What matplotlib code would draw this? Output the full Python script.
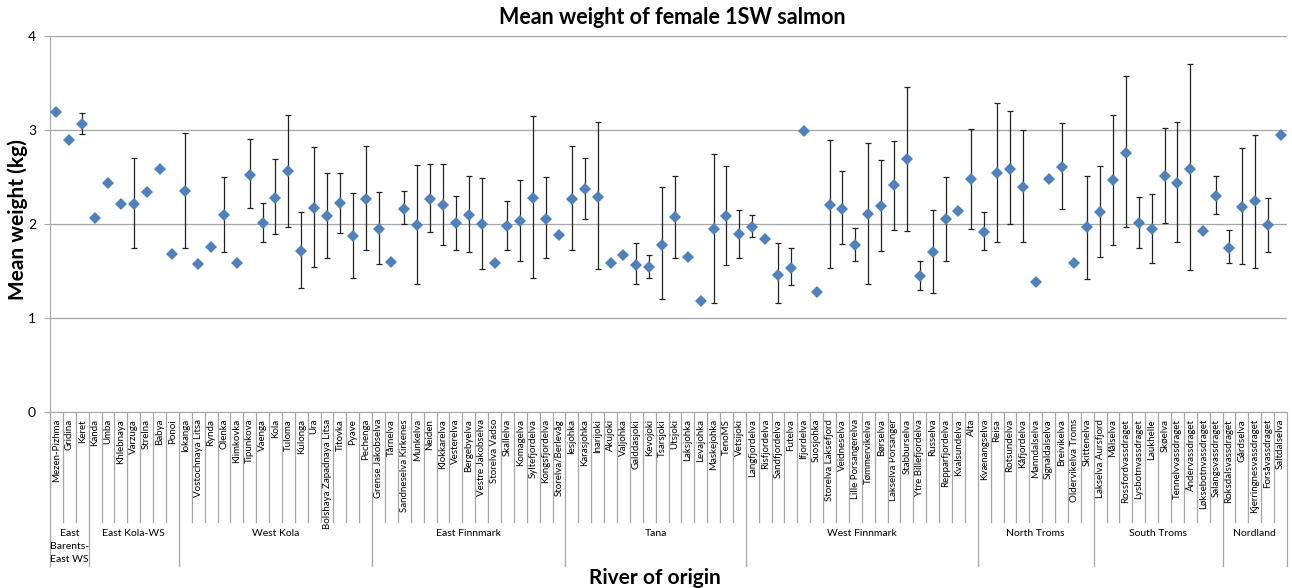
import numpy as np
import matplotlib.pyplot as plt
from matplotlib.transforms import blended_transform_factory

plt.rcParams['font.family'] = ['Lato', 'DejaVu Sans']

# regions and how many rivers each has
regions = ['East\nBarents-\nEast WS', 'East Kola-WS', 'West Kola', 'East Finnmark', 'Tana',
           'West Finnmark', 'North Troms', 'South Troms', 'Nordland']
region_sizes = [3, 7, 15, 15, 14, 18, 9, 10, 5]

rivers = ['Mezen-Pizhma', 'Gridina', 'Keret',
          'Kanda', 'Umba', 'Khlebnaya', 'Varzuga', 'Strelna', 'Babya', 'Ponoi',
          'Iokanga', 'Vostochnaya Litsa', 'Rynda', 'Olenka', 'Klimkovka', 'Tipunkova', 'Vaenga',
          'Kola', 'Tuloma', 'Kulonga', 'Ura', 'Bolshaya Zapadnaya Litsa', 'Titovka', 'Pyave',
          'Pechenga',
          'Grense Jakobselva', 'Tårnelva', 'Sandneselva Kirkenes', 'Munkelva', 'Neiden',
          'Klokkarelva', 'Vesterelva', 'Bergebyelva', 'Vestre Jakobselva', 'Storelva Vadso',
          'Skallelva', 'Komagelva', 'Syltefjordelva', 'Kongsfjordelva', 'Storelva/Berlevåg',
          'Iesjohka', 'Karasjohka', 'Inarijoki', 'Akujoki', 'Valjohka', 'Galddasjoki', 'Kevojoki',
          'Tsarsjoki', 'Utsjoki', 'Laksjohka', 'Levajohka', 'Maskejohka', 'TenoMS', 'Vetsijoki',
          'Langfjordelva', 'Risfjordelva', 'Sandfjordelva', 'Futelva', 'Ifjordelva', 'Suosjohka',
          'Storelva Laksefjord', 'Veidneselva', 'Lille Porsangerelva', 'Tømmervikelva',
          'Børselva', 'Lakselva Porsanger', 'Stabburselva', 'Ytre Billefjordelva', 'Russelva',
          'Repparfjordelva', 'Kvalsundelva', 'Alta',
          'Kvænangselva', 'Reisa', 'Rotsundelva', 'Kåfjordelva', 'Manndalselva',
          'Signaldalselva', 'Breivikelva', 'Oldervikelva Troms', 'Skittenelva',
          'Lakselva Aursfjord', 'Målselva', 'Rossfordvassdraget', 'Lysbotnvassdraget',
          'Laukhelle', 'Skøelva', 'Tennelvvassdraget', 'Åndervassdraget',
          'Løksebotnvassdraget', 'Salangsvassdraget',
          'Roksdalsvassdraget', 'Gårdselva', 'Kjerringnesvassdraget', 'Forsåvassdraget',
          'Saltdalselva']

nan = np.nan
mean_kg = [3.19, 2.89, 3.06,
           2.06, 2.44, 2.21, 2.21, 2.34, 2.59, 1.68,
           2.35, 1.57, 1.76, 2.10, 1.58, 2.52, 2.01, 2.28, 2.56, 1.71, 2.17, 2.09, 2.22, 1.87,
           2.27,
           1.95, 1.60, 2.16, 1.99, 2.27, 2.20, 2.01, 2.10, 2.00, 1.58, 1.98, 2.03, 2.28, 2.05,
           1.88,
           2.27, 2.37, 2.29, 1.58, 1.67, 1.56, 1.54, 1.78, 2.07, 1.645, 1.18, 1.95, 2.09, 1.89,
           1.97, 1.84, 1.46, 1.535, 2.99, 1.28, 2.20, 2.16, 1.78, 2.11, 2.19, 2.41, 2.69, 1.45,
           1.705, 2.05, 2.14, 2.48,
           1.915, 2.54, 2.59, 2.39, 1.38, 2.475, 2.61, 1.58, 1.965,
           2.13, 2.47, 2.755, 2.01, 1.95, 2.51, 2.44, 2.59, 1.93, 2.30,
           1.75, 2.18, 2.24, 1.99, 2.95]

upper_kg = [nan, nan, 3.18,
            nan, nan, nan, 2.70, nan, nan, nan,
            2.97, nan, nan, 2.50, nan, 2.90, 2.22, 2.69, 3.16, 2.13, 2.82, 2.54, 2.54, 2.33,
            2.83,
            2.34, nan, 2.35, 2.63, 2.64, 2.635, 2.30, 2.51, 2.49, nan, 2.25, 2.47, 3.15, 2.50,
            nan,
            2.83, 2.70, 3.08, nan, nan, 1.795, 1.67, 2.39, 2.51, nan, nan, 2.75, 2.62, 2.15,
            2.10, nan, 1.795, 1.74, nan, nan, 2.89, 2.56, 1.96, 2.86, 2.68, 2.88, 3.46, 1.61,
            2.15, 2.50, nan, 3.01,
            2.13, 3.29, 3.20, 3.00, nan, nan, 3.07, nan, 2.51,
            2.62, 3.16, 3.57, 2.29, 2.32, 3.02, 3.09, 3.70, nan, 2.51,
            1.94, 2.805, 2.95, 2.28, nan]

lower_kg = [nan, nan, 2.96,
            nan, nan, nan, 1.745, nan, nan, nan,
            1.745, nan, nan, 1.705, nan, 2.17, 1.81, 1.89, 1.97, 1.32, 1.54, 1.635, 1.90, 1.425,
            1.72,
            1.575, nan, 2.00, 1.36, 1.92, 1.78, 1.72, 1.70, 1.52, nan, 1.72, 1.61, 1.425, 1.64,
            nan,
            1.72, 2.05, 1.52, nan, nan, 1.36, 1.43, 1.20, 1.64, nan, nan, 1.16, 1.56, 1.64,
            1.86, nan, 1.155, 1.35, nan, nan, 1.535, 1.79, 1.61, 1.36, 1.71, 1.94, 1.93, 1.30,
            1.27, 1.61, nan, 1.95,
            1.72, 1.805, 2.00, 1.81, nan, nan, 2.16, nan, 1.42,
            1.65, 1.78, 1.97, 1.745, 1.59, 2.01, 1.805, 1.51, nan, 2.11,
            1.585, 1.575, 1.53, 1.70, nan]

yticks = [0, 1, 2, 3, 4]

mean = np.array(mean_kg)
hi = np.array(upper_kg)
lo = np.array(lower_kg)
x = np.arange(len(rivers))

W, H = 1292, 588
fig = plt.figure(figsize=(W / 100, H / 100), dpi=100)
ax = fig.add_axes([50 / W, (H - 412) / H, 1237 / W, 376 / H])

has_bar = ~np.isnan(hi)
ax.errorbar(x[has_bar], mean[has_bar],
            yerr=[mean[has_bar] - lo[has_bar], hi[has_bar] - mean[has_bar]],
            fmt='none', ecolor='#222222', elinewidth=0.9, capsize=2.2, capthick=0.9, zorder=2)
ax.plot(x, mean, 'D', color='#4F81BD', markersize=6, markeredgewidth=0, zorder=3)

ax.set_xlim(-0.5, len(rivers) - 0.5)
ax.set_ylim(0, 4)
ax.set_yticks(yticks)
ax.set_yticklabels([str(t) for t in yticks], fontsize=10)
ax.yaxis.grid(True, color='#a6a6a6', linewidth=0.9)
ax.set_axisbelow(True)
for s in ['top', 'right']:
    ax.spines[s].set_visible(False)
ax.spines['left'].set_color('#a6a6a6')
ax.spines['bottom'].set_color('#a6a6a6')
ax.tick_params(axis='y', length=4, color='#a6a6a6', pad=6)
ax.tick_params(axis='x', length=0, pad=5)
ax.set_xticks(x)
ax.set_xticklabels(rivers, rotation=90, fontsize=7)

# category separators and region boundaries below the axis
tr = blended_transform_factory(ax.transData, ax.transAxes)
bounds = np.cumsum([0] + region_sizes)
short_y = -(522 - 412) / 376
long_y = -(566 - 412) / 376
for i in range(len(rivers) + 1):
    yb = long_y if i in bounds else short_y
    ax.plot([i - 0.5, i - 0.5], [0, yb], color='#a6a6a6', linewidth=0.9,
            transform=tr, clip_on=False)
for k, name in enumerate(regions):
    cx = (bounds[k] + bounds[k + 1]) / 2 - 0.5
    ax.text(cx, -(529 - 412) / 376, name, transform=tr, ha='center', va='top',
            fontsize=7.5, linespacing=1.6)

fig.text(672 / W, 1 - 18 / H, 'Mean weight of female 1SW salmon', ha='center', va='center',
         fontsize=15.5, fontweight='bold')
fig.text(18 / W, 1 - 220 / H, 'Mean weight (kg)', ha='center', va='center', rotation=90,
         fontsize=15, fontweight='bold')
fig.text(655 / W, 1 - 578 / H, 'River of origin', ha='center', va='center',
         fontsize=15, fontweight='bold')

fig.savefig('out.png', dpi=100)
